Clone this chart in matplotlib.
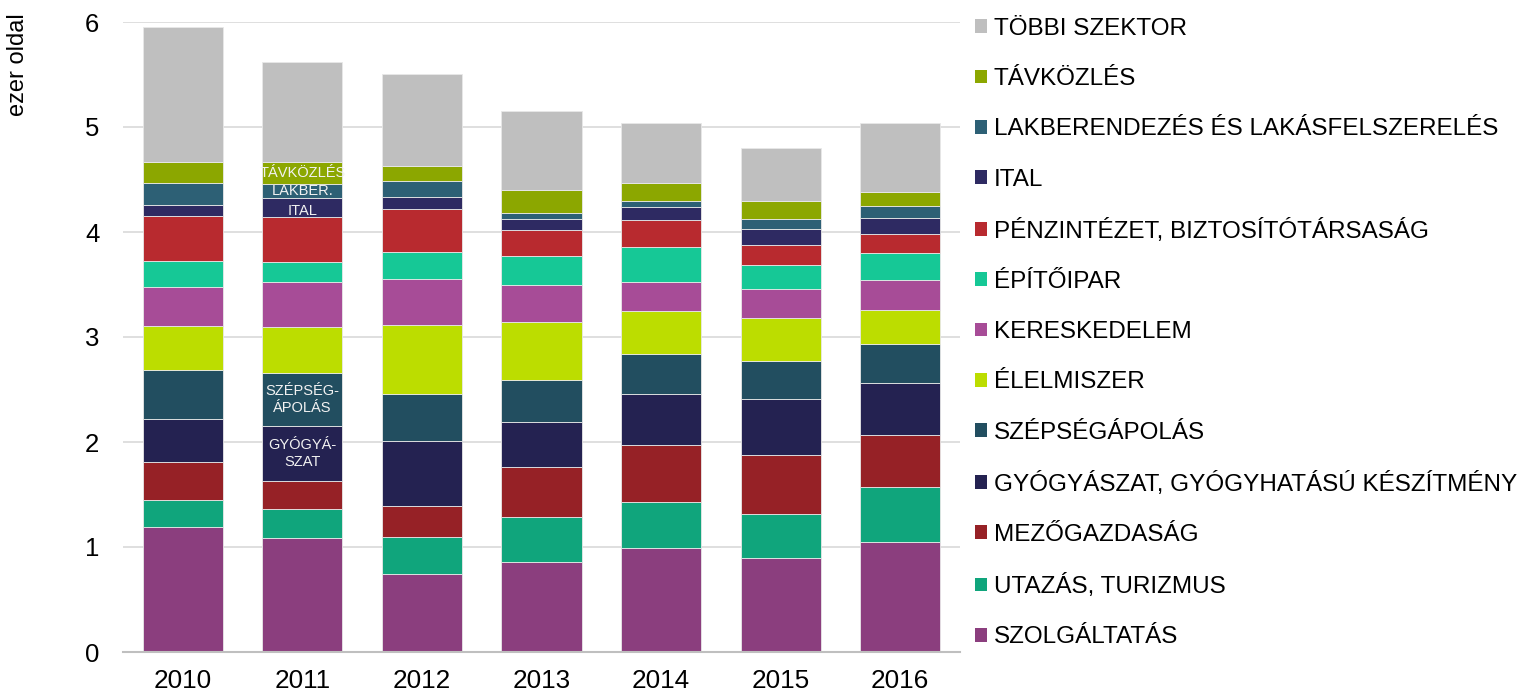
import numpy as np
import matplotlib
matplotlib.use("Agg")
import matplotlib.pyplot as plt
from matplotlib.patches import Patch

plt.rcParams['font.family'] = ['Liberation Sans', 'DejaVu Sans']

years = ["2010", "2011", "2012", "2013", "2014", "2015", "2016"]

# sectors bottom -> top (thousand pages)
szolgaltatas = [1.19, 1.09, 0.74, 0.86, 0.99, 0.90, 1.05]
utazas = [0.26, 0.27, 0.36, 0.43, 0.44, 0.41, 0.52]
mezogazdasag = [0.36, 0.27, 0.29, 0.47, 0.54, 0.57, 0.50]
gyogyaszat = [0.41, 0.52, 0.62, 0.43, 0.49, 0.53, 0.49]
szepsegapolas = [0.47, 0.51, 0.45, 0.40, 0.38, 0.36, 0.37]
elelmiszer = [0.41, 0.44, 0.65, 0.55, 0.41, 0.41, 0.33]
kereskedelem = [0.38, 0.42, 0.44, 0.36, 0.27, 0.28, 0.28]
epitoipar = [0.24, 0.19, 0.26, 0.27, 0.34, 0.23, 0.26]
penzintezet = [0.43, 0.43, 0.41, 0.25, 0.25, 0.19, 0.18]
ital = [0.11, 0.18, 0.11, 0.10, 0.13, 0.15, 0.15]
lakberendezes = [0.21, 0.14, 0.16, 0.06, 0.06, 0.09, 0.12]
tavkozles = [0.20, 0.21, 0.14, 0.22, 0.17, 0.18, 0.13]
tobbi = [1.28, 0.95, 0.87, 0.75, 0.57, 0.50, 0.66]

labels = ["SZOLGÁLTATÁS", "UTAZÁS, TURIZMUS", "MEZŐGAZDASÁG",
          "GYÓGYÁSZAT, GYÓGYHATÁSÚ KÉSZÍTMÉNY", "SZÉPSÉGÁPOLÁS", "ÉLELMISZER",
          "KERESKEDELEM", "ÉPÍTŐIPAR", "PÉNZINTÉZET, BIZTOSÍTÓTÁRSASÁG", "ITAL",
          "LAKBERENDEZÉS ÉS LAKÁSFELSZERELÉS", "TÁVKÖZLÉS", "TÖBBI SZEKTOR"]
colors = ["#8B3E7E", "#10A57C", "#962126", "#242251", "#224E60", "#BCDD00",
          "#A74C97", "#16C896", "#B82A2F", "#2E2A62", "#2D6075", "#8CA700", "#BFBFBF"]

# short labels written inside the 2011 bar
inner_labels = {3: "GYÓGYÁ-\nSZAT", 4: "SZÉPSÉG-\nÁPOLÁS", 9: "ITAL",
                10: "LAKBER.", 11: "TÁVKÖZLÉS"}
inner_bar = 1

series = [szolgaltatas, utazas, mezogazdasag, gyogyaszat, szepsegapolas, elelmiszer,
          kereskedelem, epitoipar, penzintezet, ital, lakberendezes, tavkozles, tobbi]

fig = plt.figure(figsize=(15.21, 6.94), dpi=100)
ax = fig.add_axes([123 / 1521, 42 / 694, 837 / 1521, 630 / 694])

x = np.arange(len(years))
bottom = np.zeros(len(years))
for i, (vals, lab, col) in enumerate(zip(series, labels, colors)):
    vals = np.array(vals)
    ax.bar(x, vals, width=0.67, bottom=bottom, color=col, label=lab,
           edgecolor="#E8E8E8", linewidth=0.6, zorder=3)
    if i in inner_labels:
        yc = bottom[inner_bar] + vals[inner_bar] / 2
        if i == 9:
            yc -= 0.03
        ax.text(x[inner_bar], yc, inner_labels[i], ha="center", va="center",
                color="#F2F2F2", fontsize=10.5, linespacing=1.25, zorder=4)
    bottom += vals

ax.set_xlim(-0.5, len(years) - 0.5)
ax.set_ylim(0, 6)
ax.set_yticks(range(0, 7))
ax.set_xticks(x)
ax.set_xticklabels(years)
ax.tick_params(axis="y", length=0, pad=17, labelsize=18.5)
ax.tick_params(axis="x", length=0, pad=12.3, labelsize=18.8)
ax.grid(axis="y", color="#D9D9D9", linewidth=1.2, zorder=0)
for s in ["top", "right", "left"]:
    ax.spines[s].set_visible(False)
ax.spines["bottom"].set_color("#BFBFBF")
ax.spines["bottom"].set_linewidth(1.5)
ax.spines["bottom"].set_zorder(5)

fig.text(18 / 1521, 1 - 13 / 694, "ezer oldal", rotation=90, ha="center", va="top",
         fontsize=17)

handles = [Patch(facecolor=c, edgecolor="none") for c in colors][::-1]
fig.legend(handles, labels[::-1], loc="upper left",
           bbox_to_anchor=(975 / 1521, 1 - 18 / 694), bbox_transform=fig.transFigure,
           frameon=False, fontsize=17.5, borderpad=0, borderaxespad=0,
           handlelength=0.5, handleheight=0.5, handletextpad=0.28, labelspacing=1.16)

fig.savefig("out.png", dpi=100)
